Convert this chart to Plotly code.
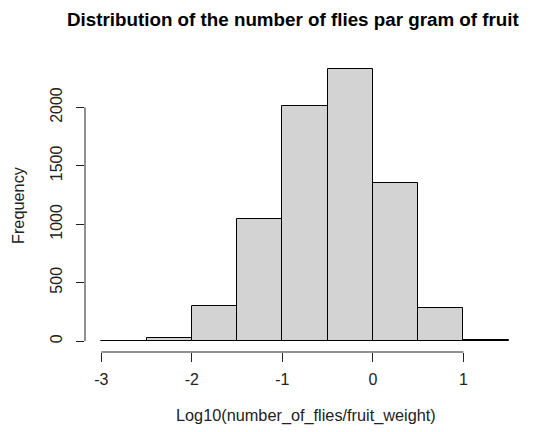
import plotly.graph_objects as go

bin_left = [-3.0, -2.5, -2.0, -1.5, -1.0, -0.5, 0.0, 0.5, 1.0]
bin_width = 0.5
counts = [2, 26, 300, 1043, 2012, 2330, 1357, 280, 9]
x_ticks = [-3, -2, -1, 0, 1]
y_ticks = [0, 500, 1000, 1500, 2000]

centers = [b + bin_width / 2 for b in bin_left]

fig = go.Figure()
fig.add_trace(go.Bar(
    x=centers, y=counts, width=[bin_width] * len(centers),
    marker=dict(color="#D3D3D3", line=dict(color="black", width=1)),
    showlegend=False, hoverinfo="x+y",
))

font = "Liberation Sans, Arial, sans-serif"
# page has an 8px body margin, so the figure is offset by 8px
OFF = 8
W, H = 542 - OFF, 432 - OFF
L, R, T, B = 85 - OFF, 17, 58 - OFF, 80
PW, PH = W - L - R, H - T - B
fig.update_layout(
    width=W, height=H,
    margin=dict(l=L, r=R, t=T, b=B, autoexpand=False),
    paper_bgcolor="white", plot_bgcolor="white",
    bargap=0,
    font=dict(family=font, size=16, color="#222222"),
    xaxis=dict(range=[-3.18, 1.68], tickvals=x_ticks, ticktext=[str(v) for v in x_ticks],
               showgrid=False, zeroline=False, showline=False, automargin=False,
               ticks="outside", ticklen=9, tickcolor="#222222", tickwidth=1,
               tickfont=dict(size=16, color="#222222"), ticklabelstandoff=4),
    yaxis=dict(range=[-93.2, 2423], tickvals=y_ticks, ticktext=[str(v) for v in y_ticks],
               showgrid=False, zeroline=False, showline=False, automargin=False,
               ticks="outside", ticklen=8, tickcolor="#222222", tickwidth=1,
               tickangle=-90,
               tickfont=dict(size=16, color="#222222"), ticklabelstandoff=8),
)

def px_x(p):
    return (p - OFF - L) / PW

def px_y(p):
    return 1 - (p - OFF - T) / PH

fig.add_annotation(text="<b>Distribution of the number of flies par gram of fruit</b>",
                   xref="paper", yref="paper", x=px_x(293), y=px_y(19.5),
                   xanchor="center", yanchor="middle", showarrow=False,
                   font=dict(family=font, size=18.8, color="black"))
fig.add_annotation(text="Log10(number_of_flies/fruit_weight)",
                   xref="paper", yref="paper", x=px_x(306), y=px_y(415),
                   xanchor="center", yanchor="middle", showarrow=False,
                   font=dict(family=font, size=16.3, color="#222222"))
fig.add_annotation(text="Frequency", textangle=-90,
                   xref="paper", yref="paper", x=px_x(18), y=px_y(205),
                   xanchor="center", yanchor="middle", showarrow=False,
                   font=dict(family=font, size=16.3, color="#222222"))

# R-style axis lines spanning only the tick range
fig.add_shape(type="line", xref="x", yref="paper", x0=x_ticks[0], x1=x_ticks[-1], y0=0, y1=0,
              line=dict(color="#222222", width=1))
fig.add_shape(type="line", xref="paper", yref="y", x0=0, x1=0, y0=y_ticks[0], y1=y_ticks[-1],
              line=dict(color="#222222", width=1))

fig.write_html("out.html")
